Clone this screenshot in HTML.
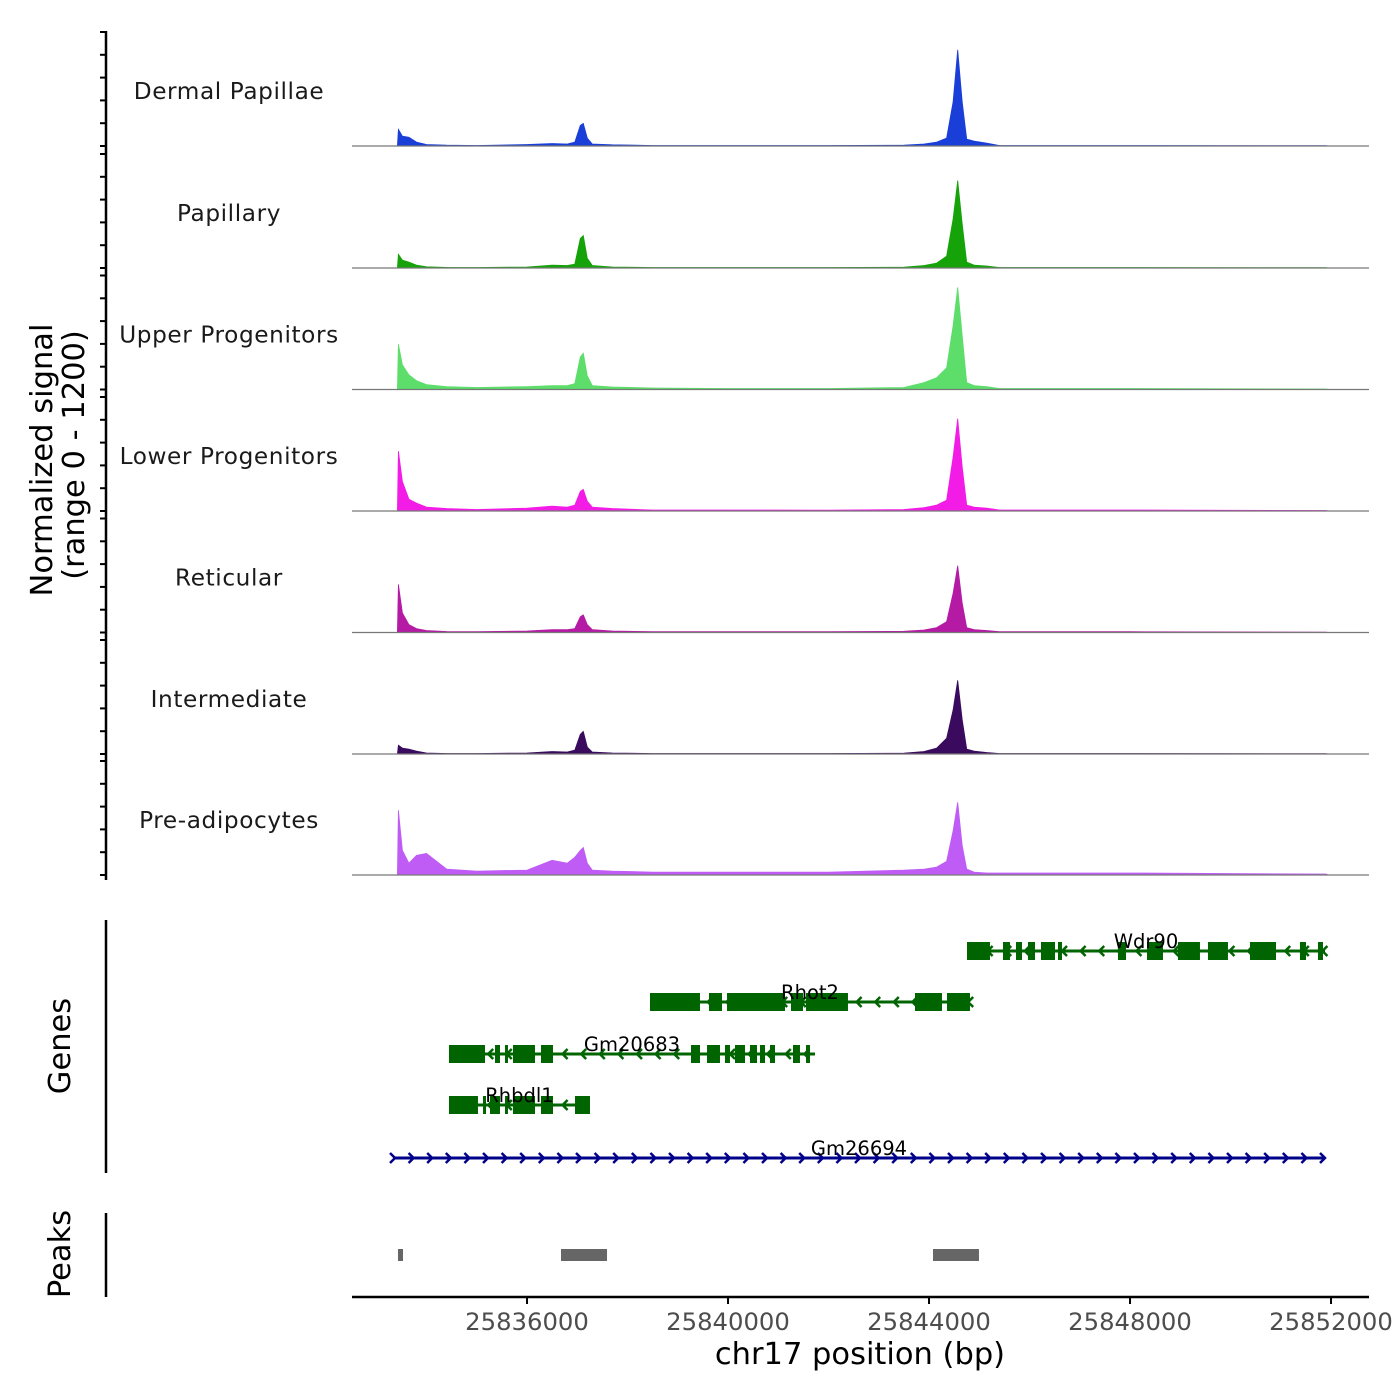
<!DOCTYPE html>
<html><head><meta charset="utf-8"><style>
body{margin:0;background:#fff}
svg{display:block;font-family:"DejaVu Sans","Liberation Sans",sans-serif}
</style></head><body>
<svg id="c" width="1400" height="1400" viewBox="0 0 1400 1400" xmlns="http://www.w3.org/2000/svg"></svg>
<script>
const trackNames=["Dermal Papillae","Papillary","Upper Progenitors","Lower Progenitors","Reticular","Intermediate","Pre-adipocytes"];
const trackColors=["#1a3fd9","#16a30a","#5ddd6a","#f21ce6","#b51aa5","#3a0a5e","#be5cf5"];
const positions=[25833420,25833440,25833520,25833650,25833800,25834000,25834400,25835000,25836000,25836500,25836800,25836950,25837060,25837120,25837200,25837300,25837700,25838500,25840000,25842000,25843500,25843900,25844150,25844350,25844480,25844570,25844660,25844750,25844900,25845150,25845400,25848000,25851900,25851950];
const sigDermal=[0,170,100,90,40,15,8,5,15,25,20,40,210,230,80,20,12,5,5,5,8,20,40,80,450,980,450,70,50,30,5,5,3,0];
const sigPapillary=[0,140,80,60,30,12,6,5,10,30,25,40,300,330,100,25,10,5,5,5,8,25,50,120,500,890,450,60,30,20,5,5,3,0];
const sigUpper=[0,460,250,150,90,50,30,20,30,40,40,60,330,370,140,40,25,15,10,10,20,70,120,220,650,1040,550,70,40,30,10,10,5,0];
const sigLower=[0,610,300,120,80,40,25,15,30,50,40,60,200,220,100,40,25,10,10,8,15,35,60,110,550,940,450,60,40,30,10,10,5,0];
const sigReticular=[0,490,200,80,40,20,10,8,15,30,30,40,160,180,80,30,15,8,8,8,12,25,50,110,400,680,300,50,30,20,8,8,4,0];
const sigIntermediate=[0,90,60,50,30,10,5,5,10,25,20,40,200,230,70,20,10,5,5,5,8,25,60,160,450,750,350,50,30,15,5,5,3,0];
const sigPreadipo=[0,660,250,120,200,220,60,40,50,150,120,180,250,280,120,50,40,30,30,30,50,60,80,140,450,740,300,60,30,20,20,20,10,0];
const signals=[sigDermal,sigPapillary,sigUpper,sigLower,sigReticular,sigIntermediate,sigPreadipo];
const xTicks=[25836000,25840000,25844000,25848000,25852000];
const geneNames=["Wdr90","Rhot2","Gm20683","Rhbdl1","Gm26694"];
const geneStarts=[25844756,25838447,25834447,25834447,25833333];
const geneEnds=[25851880,25844815,25841731,25837253,25851880];
const geneStrands=[-1,-1,-1,-1,1];
const geneExons=[
 [[25844756,25845213],[25845472,25845611],[25845731,25845850],[25845969,25846109],[25846228,25846507],[25846566,25846646],[25847760,25847920],[25848338,25848656],[25848954,25849392],[25849551,25849949],[25850387,25850905],[25851382,25851502],[25851740,25851840]],
 [[25838447,25839442],[25839621,25839880],[25839980,25841134],[25841253,25841492],[25841552,25842387],[25843721,25843780],[25843780,25844258],[25844358,25844815]],
 [[25834447,25835164],[25835363,25835462],[25835562,25835621],[25835721,25836159],[25836278,25836517],[25839263,25839442],[25839582,25839840],[25839940,25840039],[25840139,25840338],[25840437,25840577],[25840636,25840736],[25840835,25840935],[25841293,25841432],[25841552,25841631]],
 [[25834447,25835024],[25835124,25835184],[25835263,25835462],[25835562,25835621],[25835721,25836159],[25836278,25836517],[25836955,25837253]],
 []];
const peakStarts=[25833432,25836676,25844079];
const peakEnds=[25833532,25837592,25844994];

const NS="http://www.w3.org/2000/svg";
const svg=document.getElementById('c');
function el(t,a,p){const e=document.createElementNS(NS,t);for(const k in a)e.setAttribute(k,a[k]);(p||svg).appendChild(e);return e;}
const X0=25832517,PX0=352,PXW=201/4000;
function xs(bp){return PX0+(bp-X0)*PXW;}
const baselines=[146,268,389.5,511,632.5,754,875];
function ys(v,i){return baselines[i]-v*(121.5/1200)*0.97;}

let ax=el('line',{x1:106,y1:31,x2:106,y2:880,stroke:'#000','stroke-width':2.5});

for(let i=0;i<7;i++){
 for(let k=0;k<=5;k++){
  const y=baselines[i]-k*22.8;
  const t=el('line',{x1:100,y1:y,x2:106,y2:y,stroke:'#000','stroke-width':2});
  
 }
}
let yt=el('text',{x:0,y:0,'font-size':30.5,'text-anchor':'middle',transform:'translate(52,460) rotate(-90)'});
yt.textContent='Normalized signal';

let yt2=el('text',{x:0,y:0,'font-size':30.5,'text-anchor':'middle',transform:'translate(84,455) rotate(-90)'});
yt2.textContent='(range 0 - 1200)';


for(let i=0;i<7;i++){
 const g=el('g',{});
 
 
 let d='M'+xs(positions[0])+','+baselines[i];
 for(let j=0;j<positions.length;j++)d+=' L'+xs(positions[j]).toFixed(1)+','+ys(signals[i][j],i).toFixed(1);
 d+=' L'+xs(positions[positions.length-1])+','+baselines[i]+'Z';
 const a=el('path',{d:d,fill:trackColors[i],stroke:trackColors[i],'stroke-width':0.8},g);
 
 const b=el('line',{x1:352,y1:baselines[i],x2:1369,y2:baselines[i],stroke:'#777','stroke-width':1.2},g);
 
 const l=el('text',{x:229,y:baselines[i]-47,'font-size':23.2,'text-anchor':'middle',fill:'#1a1a1a','letter-spacing':'0.6'},g);
 l.textContent=trackNames[i];
 
}

let ga=el('line',{x1:106,y1:920,x2:106,y2:1173,stroke:'#000','stroke-width':2.5});

let gt=el('text',{x:0,y:0,'font-size':30.5,'text-anchor':'middle',transform:'translate(70,1046) rotate(-90)'});
gt.textContent='Genes';
const geneRows=[951,1002,1054,1105,1158];
for(let i=0;i<geneNames.length;i++){
 const col=geneStrands[i]<0?'#006400':'#00008b';
 const y=geneRows[i];
 const g=el('g',{});
 
 
 const x1=xs(geneStarts[i]),x2=xs(geneEnds[i]);
 const ln=el('line',{x1:x1,y1:y,x2:x2,y2:y,stroke:col,'stroke-width':3},g);
 
 let ch='';
 for(let x=x1+2;x<=x2+1;x+=18.6){
  if(geneStrands[i]<0)ch+='M'+(x+5)+','+(y-5)+' L'+x+','+y+' L'+(x+5)+','+(y+5)+' ';
  else ch+='M'+(x-5)+','+(y-5)+' L'+x+','+y+' L'+(x-5)+','+(y+5)+' ';
 }
 const cp=el('path',{d:ch,fill:'none',stroke:col,'stroke-width':2.5},g);
 
 for(const e of geneExons[i]){
  const r=el('rect',{x:xs(e[0]),y:y-9,width:Math.max(2,xs(e[1])-xs(e[0])),height:18,fill:col},g);
  
 }
 const t=el('text',{x:(x1+x2)/2,y:y-3,'font-size':19.5,'text-anchor':'middle',fill:'#000'},g);
 t.textContent=geneNames[i];
}

let pa=el('line',{x1:106,y1:1213,x2:106,y2:1297,stroke:'#000','stroke-width':2.5});

let pt=el('text',{x:0,y:0,'font-size':30.5,'text-anchor':'middle',transform:'translate(70,1254) rotate(-90)'});
pt.textContent='Peaks';
for(let i=0;i<peakStarts.length;i++){
 const r=el('rect',{x:xs(peakStarts[i]),y:1249,width:Math.max(5,xs(peakEnds[i])-xs(peakStarts[i])),height:12,fill:'#666'});
 
}

let xa=el('line',{x1:352,y1:1297,x2:1369,y2:1297,stroke:'#000','stroke-width':2.5});

for(const v of xTicks){
 const x=xs(v);
 const t=el('line',{x1:x,y1:1297,x2:x,y2:1304,stroke:'#000','stroke-width':2});
 
 const l=el('text',{x:x,y:1330,'font-size':24.3,'text-anchor':'middle',fill:'#4d4d4d'});
 l.textContent=String(v);
}
let xt=el('text',{x:860,y:1364,'font-size':30.5,'text-anchor':'middle',fill:'#000'});
xt.textContent='chr17 position (bp)';
</script>
</body></html>
